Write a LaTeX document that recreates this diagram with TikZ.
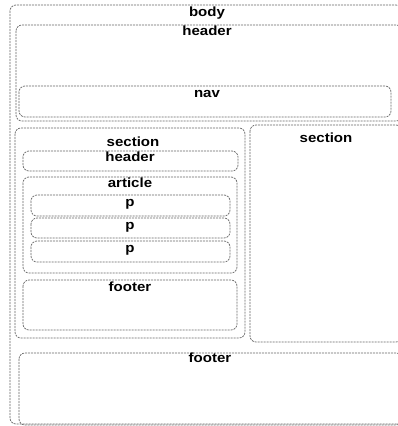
\documentclass[tikz,border=0pt]{standalone}
\usepackage{fontspec}
\setmainfont[FakeStretch=1.13]{Liberation Sans}
\begin{document}
\begin{tikzpicture}[x=1pt,y=-1pt,
  box/.style={draw=black!60, line width=0.7pt, dash pattern=on 2pt off 1pt, rounded corners=6pt},
  lbl/.style={anchor=base, inner sep=0pt, font=\fontsize{13.3}{15}\selectfont\bfseries}]
\useasboundingbox (0,0) rectangle (397,426);
% body
\draw[box] (10,5) rectangle (402,424);
\node[lbl] (body) at (207,16) {body};
% header
\draw[box] (16,25) rectangle (402,121);
\node[lbl] (header) at (207,35) {header};
\draw[box] (19,86) rectangle (391,117);
\node[lbl] (nav) at (207,97) {nav};
% left section
\draw[box] (15,128) rectangle (245,338);
\node[lbl] (sec1) at (133,146) {section};
\draw[box] (23,151) rectangle (238,171);
\node[lbl] (sechead) at (130,161) {header};
\draw[box] (23,177) rectangle (237,273);
\node[lbl] (article) at (130,187) {article};
\draw[box] (31,195) rectangle (230,216);
\node[lbl] (p1) at (130,206) {p};
\draw[box] (31,218) rectangle (230,238);
\node[lbl] (p2) at (130,229) {p};
\draw[box] (31,241) rectangle (230,262);
\node[lbl] (p3) at (130,252) {p};
\draw[box] (23,280) rectangle (237,330);
\node[lbl] (secfoot) at (130,291) {footer};
% right section
\draw[box] (250,125) rectangle (402,342);
\node[lbl] (sec2) at (326,142) {section};
% footer
\draw[box] (19,353) rectangle (402,425);
\node[lbl] (footer) at (210,362) {footer};
\end{tikzpicture}
\end{document}
